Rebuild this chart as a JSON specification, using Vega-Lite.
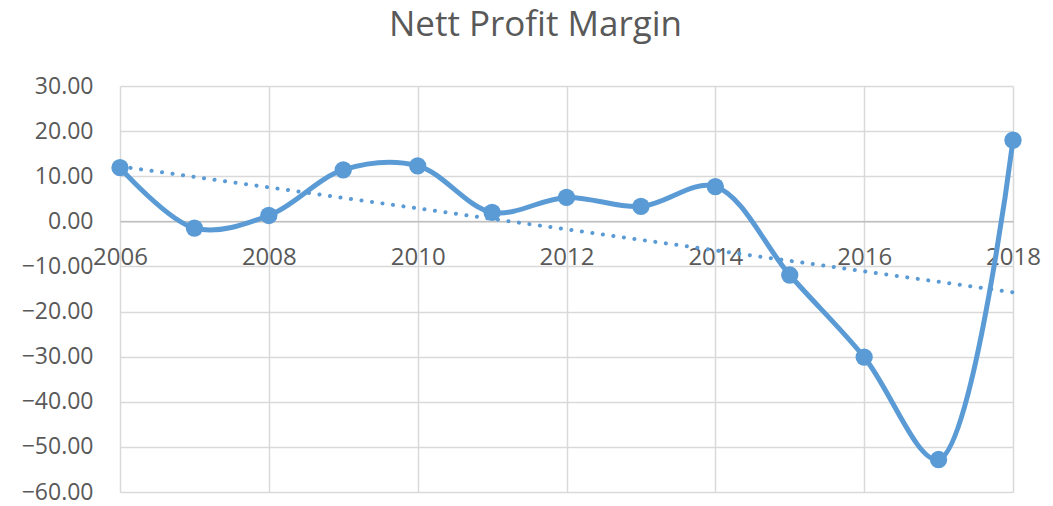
{
  "$schema": "https://vega.github.io/schema/vega-lite/v6.json",
  "autosize": {"type": "none"},
  "width": 893,
  "height": 406,
  "padding": {"left": 120, "top": 86, "right": 40, "bottom": 14},
  "background": "white",
  "title": {
    "text": "Nett Profit Margin",
    "font": "Open Sans",
    "fontSize": 35,
    "fontWeight": "normal",
    "color": "#595959",
    "anchor": "middle",
    "dx": -31,
    "offset": 32
  },
  "config": {
    "view": {"stroke": null},
    "axis": {
      "labelFont": "Open Sans",
      "labelFontSize": 23,
      "labelColor": "#595959",
      "gridColor": "#d9d9d9",
      "gridWidth": 1.5,
      "ticks": false,
      "title": null
    }
  },
  "data": {
    "values": [
      {"year": 2006, "value": 11.9},
      {"year": 2007, "value": -1.5},
      {"year": 2008, "value": 1.3},
      {"year": 2009, "value": 11.4},
      {"year": 2010, "value": 12.3},
      {"year": 2011, "value": 2.0},
      {"year": 2012, "value": 5.3},
      {"year": 2013, "value": 3.3},
      {"year": 2014, "value": 7.7},
      {"year": 2015, "value": -11.9},
      {"year": 2016, "value": -30.1},
      {"year": 2017, "value": -52.8},
      {"year": 2018, "value": 18.0}
    ]
  },
  "encoding": {
    "x": {
      "field": "year",
      "type": "quantitative",
      "scale": {"domain": [2006, 2018], "nice": false, "zero": false},
      "axis": {
        "values": [2006, 2008, 2010, 2012, 2014, 2016, 2018],
        "format": "d",
        "offset": -270.7,
        "domainColor": "#bfbfbf",
        "domainWidth": 1.5,
        "labelPadding": 24,
        "labelFontSize": 24,
        "labelFlush": false,
        "labelOverlap": false,
        "grid": true
      }
    },
    "y": {
      "field": "value",
      "type": "quantitative",
      "scale": {"domain": [-60, 30], "nice": false},
      "axis": {
        "values": [-60, -50, -40, -30, -20, -10, 0, 10, 20, 30],
        "format": ".2f",
        "domain": false,
        "labelPadding": 27,
        "grid": true
      }
    }
  },
  "layer": [
    {
      "transform": [
        {"regression": "value", "on": "year", "method": "linear", "extent": [2006, 2018]}
      ],
      "mark": {
        "type": "line",
        "color": "#5B9BD5",
        "strokeWidth": 4,
        "strokeDash": [0.1, 10.5],
        "strokeCap": "round"
      }
    },
    {
      "mark": {
        "type": "line",
        "color": "#5B9BD5",
        "strokeWidth": 5,
        "interpolate": "catmull-rom"
      }
    },
    {
      "mark": {
        "type": "point",
        "filled": true,
        "opacity": 1,
        "color": "#5B9BD5",
        "size": 300
      }
    }
  ]
}
